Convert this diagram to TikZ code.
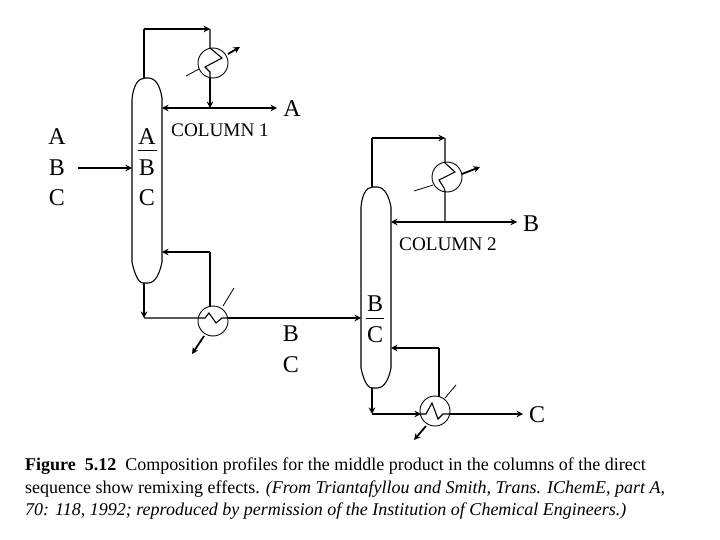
\documentclass[tikz,border=0pt]{standalone}
\usepackage{fontspec}
\setmainfont{Liberation Serif}
\usetikzlibrary{arrows.meta}
\tikzset{
  thin line/.style={line width=1.1pt},
  thick line/.style={line width=1.8pt},
  tip/.style={-{Stealth[length=6.5pt,width=6.5pt]}},
  twotips/.style={{Stealth[length=6.5pt,width=6.5pt]}-{Stealth[length=6.5pt,width=6.5pt]}},
  hx/.style={circle,draw,line width=0.9pt,minimum size=30pt,inner sep=0pt},
  big/.style={font=\fontsize{24}{24}\selectfont,inner sep=0pt},
  collabel/.style={font=\fontsize{19.2}{19.2}\selectfont,inner sep=0pt},
  captext/.style={font=\fontsize{18}{18}\selectfont,inner sep=0pt,anchor=base west},
  shell/.style={line width=1.1pt},
  fine/.style={line width=0.8pt}
}
\begin{document}
\begin{tikzpicture}[x=1pt,y=-1pt]
\useasboundingbox (0,0) rectangle (720,540);
% exchangers
\node[hx] (c1) at (213,63) {};
\node[hx] (r1) at (213,321) {};
\node[hx] (c2) at (447,177) {};
\node[hx] (r2) at (435,411) {};
% columns
\draw[shell] (132,262) -- (132,100) .. controls (133,86) and (138,78) .. (145,78) -- (148,78) .. controls (156,78) and (160,86) .. (162,98) -- (162,262)
  .. controls (160,272) and (156,283) .. (148,283) -- (143,283) .. controls (138,283) and (134,272) .. (132,262) -- cycle;
\draw[shell] (361,368) -- (361,207) .. controls (362,195) and (366,187) .. (373,187) -- (377,187) .. controls (385,187) and (389,197) .. (391,207) -- (391,368)
  .. controls (389,378) and (385,388) .. (377,388) -- (372,388) .. controls (367,388) and (363,378) .. (361,368) -- cycle;
% named points
\coordinate (c1top) at (144,78);
\coordinate (c1tl) at (144,29);
\coordinate (c1tr) at (210,29);
\coordinate (c1in) at (210,48);
\coordinate (c1out) at (210,78);
\coordinate (c1prod) at (210,108);
\coordinate (col1r) at (162,108);
\coordinate (prodA) at (277,108);
\coordinate (feedS) at (78,168);
\coordinate (feedE) at (132,168);
\coordinate (b1) at (144,283);
\coordinate (b1c) at (144,318);
\coordinate (r1l) at (198,318);
\coordinate (r1r) at (228,318);
\coordinate (feed2) at (361,318);
\coordinate (r1t) at (210,307);
\coordinate (r1u) at (210,252);
\coordinate (col1b) at (162,252);
\coordinate (c2top) at (372,187);
\coordinate (c2tl) at (372,138);
\coordinate (c2tr) at (445,138);
\coordinate (c2in) at (445,163);
\coordinate (c2out) at (445,191);
\coordinate (c2prod) at (445,222);
\coordinate (col2r) at (391,222);
\coordinate (prodB) at (517,222);
\coordinate (b2) at (372,388);
\coordinate (b2c) at (372,414);
\coordinate (r2l) at (421,414);
\coordinate (r2r) at (449,414);
\coordinate (prodC) at (523,414);
\coordinate (r2t) at (439,397);
\coordinate (r2u) at (439,348);
\coordinate (col2b) at (391,348);
% column 1 connectors
\draw[thin line] (c1top) -- (c1tl);
\draw[thick line,tip] (c1tl) -- (c1tr);
\draw[thin line] (c1tr) -- (c1in) -- (222,58) -- (205,67) -- (210,72) -- (c1out);
\draw[thick line,tip] (c1out) -- (c1prod);
\draw[thick line,twotips] (col1r) -- (prodA);
\draw[line width=1.4pt,tip] (feedS) -- (feedE);
\draw[thick line,tip] (b1) -- (b1c);
\draw[thin line] (b1c) -- (r1l) -- (205,318) -- (209,313) -- (216,323) -- (222,318) -- (r1r);
\draw[thick line,tip] (r1r) -- (feed2);
\draw[thin line] (r1t) -- (r1u);
\draw[thick line,tip] (r1u) -- (col1b);
% column 2 connectors
\draw[thin line] (c2top) -- (c2tl);
\draw[thick line,tip] (c2tl) -- (c2tr);
\draw[thin line] (c2tr) -- (c2in) -- (455,172) -- (439,180) -- (444,188) -- (c2out) -- (c2prod);
\draw[thick line,twotips] (col2r) -- (prodB);
\draw[thick line,tip] (b2) -- (b2c);
\draw[thick line,tip] (b2c) -- (r2l);
\draw[thin line] (r2l) -- (426,414) -- (432,403) -- (438,419) -- (443,414) -- (r2r);
\draw[thick line,tip] (r2r) -- (prodC);
\draw[thin line] (r2t) -- (r2u);
\draw[thick line,tip] (r2u) -- (col2b);
% utility lines
\draw[fine] (186,76) -- (199,69);
\draw[fine] (223,306) -- (234,288);
\draw[fine] (414,191) -- (433,185);
\draw[fine] (445,398) -- (456,385);
\draw[thick line,tip] (228,54) -- (240,47);
\draw[thick line,tip] (462,174) -- (480,167);
\draw[thick line,tip] (204,336) -- (192,354);
\draw[thick line,tip] (426,426) -- (414,440);
% labels
\node[big] (la) at (57,137) {A};
\node[big] (lb) at (57,168) {B};
\node[big] (lc) at (57,198) {C};
\node[big] (ia) at (147,137) {A};
\node[big] (ib) at (147,168) {B};
\node[big] (ic) at (147,198) {C};
\node[big] (pa) at (292,109) {A};
\node[big] (pb) at (531,224) {B};
\node[big] (pc) at (537,415) {C};
\node[big] (fb) at (291,334) {B};
\node[big] (fc) at (291,365) {C};
\node[big] (jb) at (375,304) {B};
\node[big] (jc) at (375,335) {C};
\node[collabel] (n1) at (220,130) {COLUMN 1};
\node[collabel] (n2) at (448,244) {COLUMN 2};
\coordinate (bar1l) at (138,150); \coordinate (bar1r) at (157,150);
\coordinate (bar2l) at (366,318); \coordinate (bar2r) at (384,318);
\draw[fine] (bar1l) -- (bar1r);
\draw[fine] (bar2l) -- (bar2r);
% caption
\node[captext] (t1) at (25,470) {\textbf{Figure\ \ 5.12}\ \ Composition profiles for the middle product in the columns of the direct};
\node[captext] (t2) at (25,493) {sequence show remixing effects. \textit{(From Triantafyllou and Smith, Trans. IChemE, part A,}};
\node[captext] (t3) at (25,515) {\textit{70: 118, 1992; reproduced by permission of the Institution of Chemical Engineers.)}};
\end{tikzpicture}
\end{document}
